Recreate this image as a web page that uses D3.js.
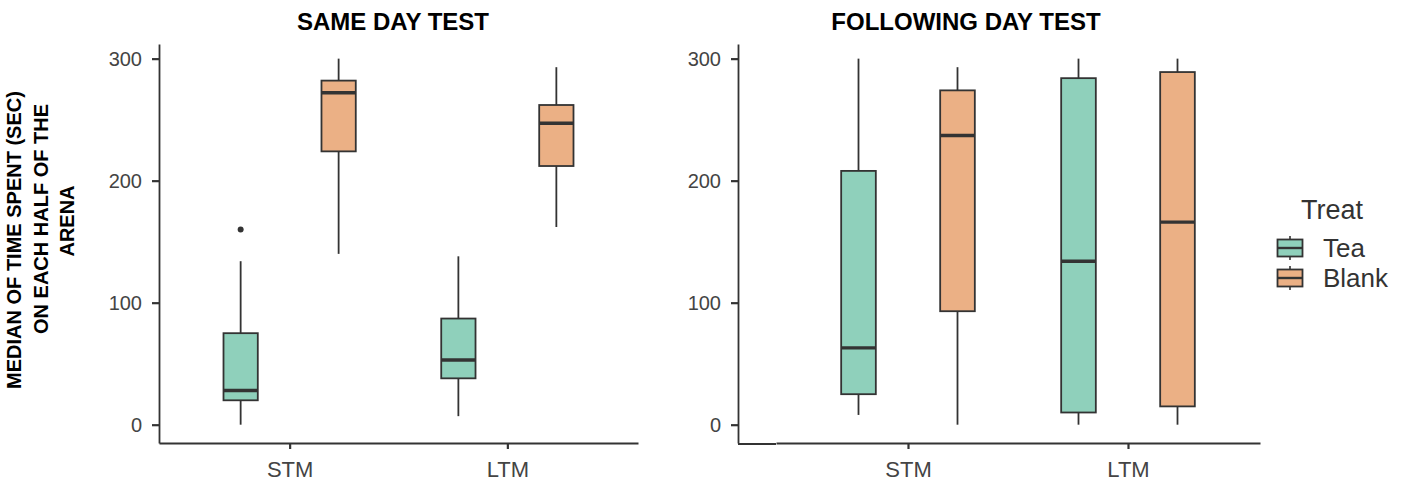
<!DOCTYPE html>
<html>
<head>
<meta charset="utf-8">
<script src="https://cdn.jsdelivr.net/npm/d3@7"></script>
<style>
  body { margin: 0; background: #fff; }
  svg { display: block; font-family: "Liberation Sans", Arial, sans-serif; }
</style>
</head>
<body>
<svg id="chart"></svg>
<script>
// data
var categories = ['STM', 'LTM'];
var treatments = ['Tea', 'Blank'];
var yTicks = [0, 100, 200, 300];
var panelTitles = ['SAME DAY TEST', 'FOLLOWING DAY TEST'];

// [lower whisker, q1, median, q3, upper whisker], in order STM, LTM
var sameTea = [[0, 20, 28, 75, 134], [7, 38, 53, 87, 138]];
var sameBlank = [[140, 224, 272, 282, 300], [162, 212, 247, 262, 293]];
var sameOutliers = [{ cat: 'STM', treat: 'Tea', v: 160 }];

var nextTea = [[8, 25, 63, 208, 300], [0, 10, 134, 284, 300]];
var nextBlank = [[0, 93, 237, 274, 293], [0, 15, 166, 289, 300]];
var nextOutliers = [];

var colors = { Tea: '#8fd0bb', Blank: '#ebb085' };
var dark = '#333333';

var svg = d3.select('#chart').attr('width', 1407).attr('height', 482);
svg.append('rect').attr('width', 1407).attr('height', 482).attr('fill', '#fff');

var y = d3.scaleLinear().domain([-15, 312]).range([443, 44]);

function drawPanel(title, tea, blank, outliers, xLeft, yAxisX, xRight, titleX) {
    var g = svg.append('g');
    var x = d3.scalePoint().domain(categories).range([xLeft, xRight]).padding(0.6);
    var step = x.step();
    var dodge = d3.scaleBand().domain(treatments).range([-0.45 * step, 0.45 * step]);
    var bw = dodge.bandwidth() * 0.35;

    // title
    g.append('text').attr('x', titleX).attr('y', 30).attr('text-anchor', 'middle')
        .attr('font-size', 24).attr('font-weight', 'bold').attr('fill', '#000').text(title);

    // boxes
    var rows = [];
    categories.forEach(function(c, i) {
        rows.push({ cat: c, treat: 'Tea', s: tea[i] });
        rows.push({ cat: c, treat: 'Blank', s: blank[i] });
    });
    var box = g.selectAll('g.box').data(rows).enter().append('g').attr('class', 'box')
        .attr('transform', function(d) { return 'translate(' + (x(d.cat) + dodge(d.treat) + dodge.bandwidth() / 2) + ',0)'; });
    box.append('line').attr('x1', 0).attr('x2', 0)
        .attr('y1', function(d) { return y(d.s[0]); }).attr('y2', function(d) { return y(d.s[1]); })
        .attr('stroke', dark).attr('stroke-width', 1.8);
    box.append('line').attr('x1', 0).attr('x2', 0)
        .attr('y1', function(d) { return y(d.s[3]); }).attr('y2', function(d) { return y(d.s[4]); })
        .attr('stroke', dark).attr('stroke-width', 1.8);
    box.append('rect').attr('x', -bw / 2).attr('width', bw)
        .attr('y', function(d) { return y(d.s[3]); })
        .attr('height', function(d) { return y(d.s[1]) - y(d.s[3]); })
        .attr('fill', function(d) { return colors[d.treat]; })
        .attr('stroke', dark).attr('stroke-width', 1.8);
    box.append('line').attr('x1', -bw / 2).attr('x2', bw / 2)
        .attr('y1', function(d) { return y(d.s[2]); }).attr('y2', function(d) { return y(d.s[2]); })
        .attr('stroke', dark).attr('stroke-width', 3.4);

    g.selectAll('circle.out').data(outliers).enter().append('circle').attr('class', 'out')
        .attr('cx', function(d) { return x(d.cat) + dodge(d.treat) + dodge.bandwidth() / 2; })
        .attr('cy', function(d) { return y(d.v); })
        .attr('r', 3).attr('fill', dark);

    // axes
    var ya = g.append('g').attr('transform', 'translate(' + yAxisX + ',0)')
        .call(d3.axisLeft(y).tickValues(yTicks).tickSize(7).tickSizeOuter(0).tickPadding(10));
    var xa = g.append('g').attr('transform', 'translate(0,443)')
        .call(d3.axisBottom(x).tickSize(6).tickSizeOuter(0).tickPadding(12));
    [ya, xa].forEach(function(a) {
        a.select('.domain').attr('stroke', dark).attr('stroke-width', 1.8);
        a.selectAll('.tick line').attr('stroke', dark).attr('stroke-width', 2.2);
        a.selectAll('.tick text').attr('fill', '#444').attr('font-family', '"Liberation Sans", Arial, sans-serif');
    });
    ya.selectAll('.tick text').attr('font-size', 20);
    xa.selectAll('.tick text').attr('font-size', 22);
    if (yAxisX < xLeft) {
        // the x axis line runs on to the y axis
        g.append('line').attr('x1', yAxisX).attr('x2', xLeft).attr('y1', 444).attr('y2', 444)
            .attr('stroke', dark).attr('stroke-width', 1.8);
    }
}

drawPanel(panelTitles[0], sameTea, sameBlank, sameOutliers, 159, 159, 638, 393);
drawPanel(panelTitles[1], nextTea, nextBlank, nextOutliers, 776, 738, 1260, 966);

// y axis title
var ytitle = ['MEDIAN OF TIME SPENT (SEC)', 'ON EACH HALF OF THE', 'ARENA'];
var ytx = [21, 47.5, 73.5];
var yty = [240, 219, 221];
ytitle.forEach(function(t, i) {
    svg.append('text').attr('transform', 'translate(' + ytx[i] + ',' + yty[i] + ') rotate(-90)')
        .attr('text-anchor', 'middle').attr('font-size', 20).attr('font-weight', 'bold')
        .attr('fill', '#000').text(t);
});

// legend
var lg = svg.append('g');
lg.append('text').attr('x', 1301).attr('y', 219).attr('font-size', 27).attr('fill', '#333').text('Treat');
var key = lg.selectAll('g.key').data(treatments).enter().append('g').attr('class', 'key')
    .attr('transform', function(d, i) { return 'translate(1290,' + (248 + i * 30) + ')'; });
key.append('line').attr('x1', 0).attr('x2', 0).attr('y1', -12).attr('y2', 12)
    .attr('stroke', dark).attr('stroke-width', 1.6);
key.append('rect').attr('x', -12.5).attr('y', -8.5).attr('width', 25).attr('height', 17)
    .attr('fill', function(d) { return colors[d]; }).attr('stroke', dark).attr('stroke-width', 1.8);
key.append('line').attr('x1', -12.5).attr('x2', 12.5).attr('y1', 0).attr('y2', 0)
    .attr('stroke', dark).attr('stroke-width', 2.4);
key.append('text').attr('x', 33).attr('y', 9).attr('font-size', 26).attr('fill', '#333')
    .text(function(d) { return d; });
</script>
</body>
</html>
